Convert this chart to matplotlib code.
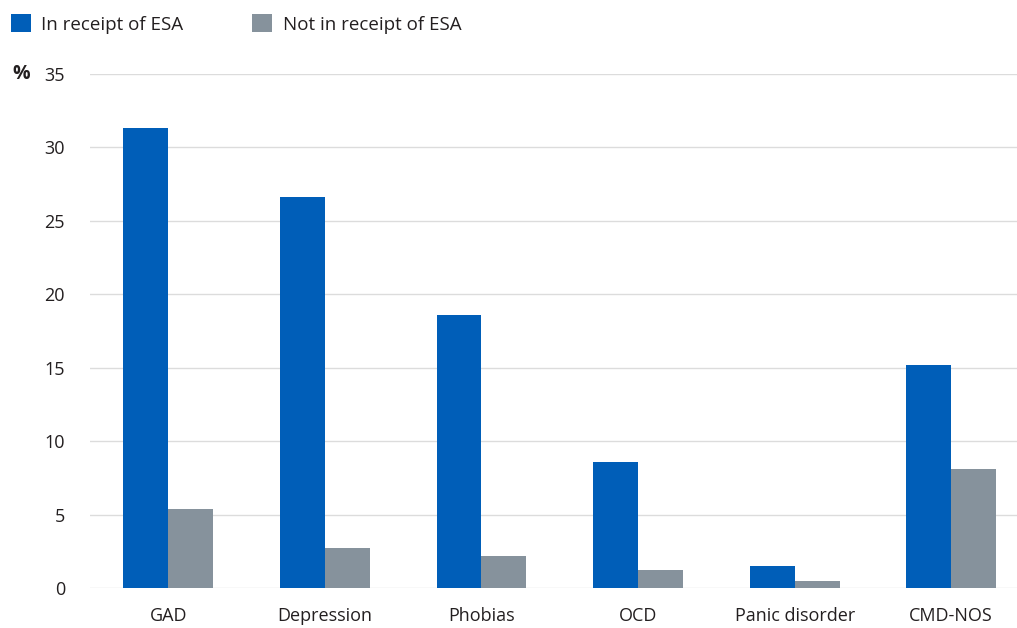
import numpy as np
import matplotlib.pyplot as plt

categories = ["GAD", "Depression", "Phobias", "OCD", "Panic disorder", "CMD-NOS"]
esa = [31.3, 26.6, 18.6, 8.6, 1.5, 15.2]
no_esa = [5.4, 2.7, 2.2, 1.2, 0.5, 8.1]
series_labels = ["In receipt of ESA", "Not in receipt of ESA"]

blue = "#005EB8"
grey = "#86929C"
text_col = "#231f20"

plt.rcParams['font.family'] = ['Open Sans', 'DejaVu Sans']

fig = plt.figure(figsize=(10.17, 6.28), dpi=100)
ax = fig.add_axes([90 / 1017, 40 / 628, 927 / 1017, 514 / 628])

x = np.arange(len(categories))
w = 0.287
b1 = ax.bar(x - w / 2, esa, w, color=blue, label=series_labels[0], zorder=3)
b2 = ax.bar(x + w / 2, no_esa, w, color=grey, label=series_labels[1], zorder=3)

ax.set_xlim(-0.5, 5.42)
ax.set_ylim(0, 35)
ax.set_yticks(range(0, 36, 5))
ax.set_xticks(x)
ax.set_xticklabels(categories)
ax.grid(axis='y', color="#dcdcdc", linewidth=1, zorder=0)
for s in ax.spines.values():
    s.set_visible(False)
ax.tick_params(axis='both', length=0, labelsize=13, colors=text_col)
ax.tick_params(axis='y', pad=18)
ax.tick_params(axis='x', pad=14)

fig.text(12 / 1017, 1 - 74 / 628, "%", fontsize=14, fontweight='bold',
         color=text_col, va='center', ha='left')

leg = fig.legend(handles=[b1, b2], loc='upper left', bbox_to_anchor=(3 / 1017, 1 - 7 / 628),
                 ncol=2, frameon=False, fontsize=13.5, handlelength=1.07, handleheight=1.07,
                 handletextpad=0.55, columnspacing=3.7, borderaxespad=0)
for t in leg.get_texts():
    t.set_color(text_col)

fig.savefig("out.png", dpi=100)
